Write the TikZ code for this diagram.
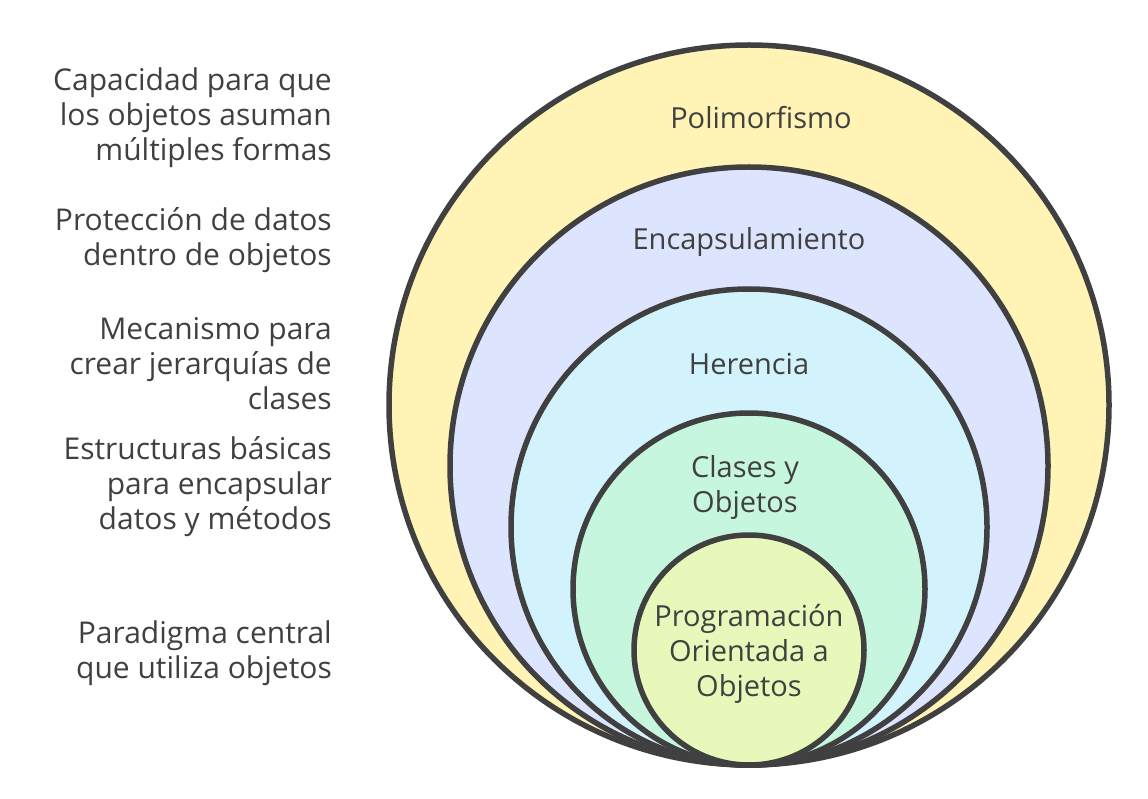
\documentclass[tikz,border=0pt]{standalone}
\usepackage{fontspec}
\setmainfont{Open Sans}
\definecolor{ink}{RGB}{64,64,64}
\definecolor{polifill}{RGB}{255,244,181}
\definecolor{encapfill}{RGB}{220,229,253}
\definecolor{herenfill}{RGB}{210,242,252}
\definecolor{clasefill}{RGB}{198,246,222}
\definecolor{poofill}{RGB}{231,248,186}
\usetikzlibrary{positioning}

\begin{document}
\begin{tikzpicture}[x=1pt, y=-1pt,
    ring/.style={circle, draw=ink, line width=5.5pt, inner sep=0pt},
    lbl/.style={text=ink, font=\fontsize{29}{35}\selectfont, align=center},
    side/.style={text=ink, font=\fontsize{30}{35}\selectfont, align=right, anchor=east, inner sep=0pt}]
  \useasboundingbox (0,0) rectangle (1148,799);
  % nested rings, all touching at the bottom
  \node[ring, fill=polifill, minimum size=720pt] (poli) at (749,405) {};
  \node[ring, fill=encapfill, minimum size=598pt] (encap) at (749,466) {};
  \node[ring, fill=herenfill, minimum size=476pt] (heren) at (749,527) {};
  \node[ring, fill=clasefill, minimum size=352pt] (clase) at (749,589) {};
  \node[ring, fill=poofill, minimum size=230pt] (poo) at (749,650) {};
  % ring names
  \node[lbl] (poli-t) at (761,118) {Polimorfismo};
  \node[lbl] (encap-t) at (749,242) {Encapsulamiento};
  \node[lbl] (heren-t) at (749,364) {Herencia};
  \node[lbl] (clase-t) at (745,487) {Clases y\\Objetos};
  \node[lbl] (poo-t) at (749,654) {Programación\\Orientada a\\Objetos};
  % descriptions on the left
  \node[side] (poli-d) at (332,118) {Capacidad para que\\los objetos asuman\\múltiples formas};
  \node[side] (encap-d) at (332,240) {Protección de datos\\dentro de objetos};
  \node[side] (heren-d) at (332,364) {Mecanismo para\\crear jerarquías de\\clases};
  \node[side] (clase-d) at (332,487) {Estructuras básicas\\para encapsular\\datos y métodos};
  \node[side] (poo-d) at (332,653) {Paradigma central\\que utiliza objetos};
\end{tikzpicture}
\end{document}
